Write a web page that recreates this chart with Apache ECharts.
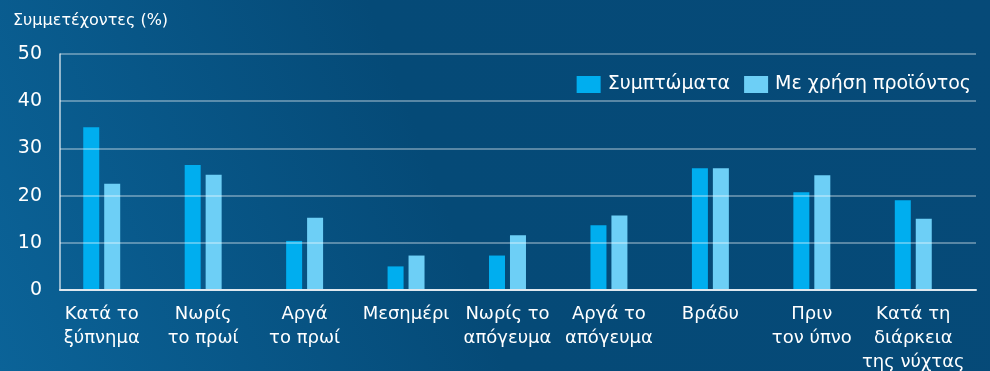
<!DOCTYPE html>
<html>
<head>
<meta charset="utf-8">
<script src="https://cdn.jsdelivr.net/npm/echarts@6/dist/echarts.min.js"></script>
<style>
  html, body { margin: 0; padding: 0; }
  #chart { width: 990px; height: 371px; }
</style>
</head>
<body>
<div id="chart"></div>
<script>
// Time-of-day categories (multi-line labels)
const categories = [
  'Κατά το\nξύπνημα',
  'Νωρίς\nτο πρωί',
  'Αργά\nτο πρωί',
  'Μεσημέρι',
  'Νωρίς το\nαπόγευμα',
  'Αργά το\nαπόγευμα',
  'Βράδυ',
  'Πριν\nτον ύπνο',
  'Κατά τη\nδιάρκεια\nτης νύχτας'
];

// Share of participants (%)
const symptoms = [34.5, 26.5, 10.4, 5.0, 7.3, 13.7, 25.8, 20.7, 19.0];
const withProduct = [22.5, 24.4, 15.3, 7.3, 11.6, 15.8, 25.8, 24.3, 15.1];

const seriesNames = ['Συμπτώματα', 'Με χρήση προϊόντος'];
const yTicks = [0, 10, 20, 30, 40, 50];
const yTitle = 'Συμμετέχοντες (%)';

const FONT = '"DejaVu Sans", sans-serif';
const chart = echarts.init(document.getElementById('chart'));

chart.setOption({
  backgroundColor: {
    type: 'linear', x: 0, y: 1, x2: 1, y2: 0,
    colorStops: [
      { offset: 0, color: '#0b6398' },
      { offset: 0.45, color: '#054a77' },
      { offset: 1, color: '#064a78' }
    ]
  },
  textStyle: { fontFamily: FONT },
  title: {
    text: yTitle,
    left: 8, top: 8,
    textStyle: { color: '#ffffff', fontSize: 16, fontWeight: 'normal', fontFamily: FONT }
  },
  legend: {
    data: seriesNames,
    right: 14, top: 70,
    itemWidth: 24, itemHeight: 17, itemGap: 14,
    icon: 'rect',
    textStyle: { color: '#ffffff', fontSize: 19, fontFamily: FONT, padding: [0, 0, 0, 2] }
  },
  grid: [
    // frame: axes and gridlines
    { left: 60, right: 14, top: 54, bottom: 81, outerBoundsMode: 'none' },
    // bars and category labels
    { left: 51, right: 26, top: 54, bottom: 81, outerBoundsMode: 'none' }
  ],
  xAxis: [
    {
      gridIndex: 0, type: 'category', data: categories,
      z: 10,
      axisLine: { show: true, lineStyle: { color: '#dfe8ef', width: 2 } },
      axisTick: { show: false },
      axisLabel: { show: false }
    },
    {
      gridIndex: 1, type: 'category', data: categories,
      axisLine: { show: false },
      axisTick: { show: false },
      axisLabel: {
        interval: 0, margin: 12,
        color: '#ffffff', fontSize: 18, lineHeight: 24, fontFamily: FONT, align: 'center'
      }
    }
  ],
  yAxis: [
    {
      gridIndex: 0, type: 'value', min: 0, max: 50, interval: 10,
      z: 10,
      axisLine: { show: true, lineStyle: { color: 'rgba(255,255,255,0.75)', width: 1.5 } },
      axisTick: { show: false },
      splitLine: { show: true, lineStyle: { color: 'rgba(255,255,255,0.45)', width: 1.5 } },
      axisLabel: {
        margin: 18, color: '#ffffff', fontSize: 19, fontFamily: FONT,
        formatter: v => yTicks.includes(v) ? String(v) : ''
      }
    },
    {
      gridIndex: 1, type: 'value', min: 0, max: 50, interval: 10,
      show: false
    }
  ],
  series: [
    {
      name: seriesNames[0], type: 'bar', xAxisIndex: 1, yAxisIndex: 1,
      data: symptoms, barWidth: 16, barGap: '31%',
      itemStyle: { color: '#00aeef' }
    },
    {
      name: seriesNames[1], type: 'bar', xAxisIndex: 1, yAxisIndex: 1,
      data: withProduct, barWidth: 16, barGap: '31%',
      itemStyle: { color: '#6dcff6' }
    }
  ]
});
</script>
</body>
</html>
